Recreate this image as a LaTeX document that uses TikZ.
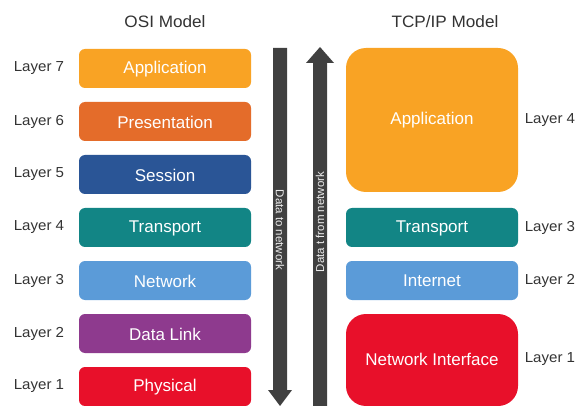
\documentclass[tikz,border=0pt]{standalone}
\usepackage{fontspec}
\setmainfont{Liberation Sans}
\definecolor{cApp}{HTML}{F9A324}
\definecolor{cPres}{HTML}{E46C2A}
\definecolor{cSess}{HTML}{2A5596}
\definecolor{cTrans}{HTML}{128585}
\definecolor{cNet}{HTML}{5B9BD8}
\definecolor{cLink}{HTML}{8E3A8E}
\definecolor{cPhys}{HTML}{E8102A}
\definecolor{cArrow}{HTML}{404040}
\definecolor{cText}{HTML}{333333}
\begin{document}
\begin{tikzpicture}[x=1pt,y=-1pt,
  boxtext/.style={text=white, font=\fontsize{17}{19}\selectfont},
  layerlabel/.style={text=cText, font=\fontsize{14.5}{16}\selectfont, xscale=1.04},
  title/.style={text=cText, font=\fontsize{16.5}{18}\selectfont, xscale=1.04},
  arrowtext/.style={text=white!85!gray, font=\fontsize{11.5}{13}\selectfont}]
\useasboundingbox (0,0) rectangle (581,406);
\fill[white] (0,0) rectangle (581,406);
% titles
\node[title] (osiT) at (165,22) {OSI Model};
\node[title] (tcpT) at (445,22) {TCP/IP Model};
% OSI boxes
\foreach \nm/\col/\txt/\yt in {app/cApp/Application/49, pres/cPres/Presentation/102, sess/cSess/Session/155, trans/cTrans/Transport/208, net/cNet/Network/261, link/cLink/Data Link/314, phys/cPhys/Physical/367}{
  \fill[\col, rounded corners=6pt] (79,\yt) rectangle (251,\yt+39);
  \node[boxtext] (osi-\nm) at (165,\yt+20) {\txt};
}
\foreach \n/\yt in {7/49,6/102,5/155,4/208,3/261,2/314,1/367}{
  \node[layerlabel] (L\n) at (39,\yt+19.5) {Layer \n};
}
% TCP/IP boxes
\fill[cApp, rounded corners=20pt] (346,48) rectangle (518,192);
\node[boxtext] (tcp-app) at (432,120) {Application};
\fill[cTrans, rounded corners=6pt] (346,208) rectangle (518,247);
\node[boxtext] (tcp-trans) at (432,228) {Transport};
\fill[cNet, rounded corners=6pt] (346,261) rectangle (518,300);
\node[boxtext] (tcp-int) at (432,281) {Internet};
\fill[cPhys, rounded corners=20pt] (346,314) rectangle (518,406);
\node[boxtext] (tcp-ni) at (432,359) {Network Interface};
\node[layerlabel] (R4) at (550,120) {Layer 4};
\node[layerlabel] (R3) at (550,227.5) {Layer 3};
\node[layerlabel] (R2) at (550,280.5) {Layer 2};
\node[layerlabel] (R1) at (550,359) {Layer 1};
% arrows
\fill[cArrow] (273,48) -- (287,48) -- (287,390) -- (292,390) -- (280,406) -- (268,390) -- (273,390) -- cycle;
\fill[cArrow] (313,406) -- (313,63) -- (306,63) -- (320,47) -- (334,63) -- (327,63) -- (327,406) -- cycle;
\node[arrowtext, rotate=-90] (down) at (280,230) {Data to network};
\node[arrowtext, rotate=90] (up) at (320,222) {Data t from network};
\end{tikzpicture}
\end{document}
